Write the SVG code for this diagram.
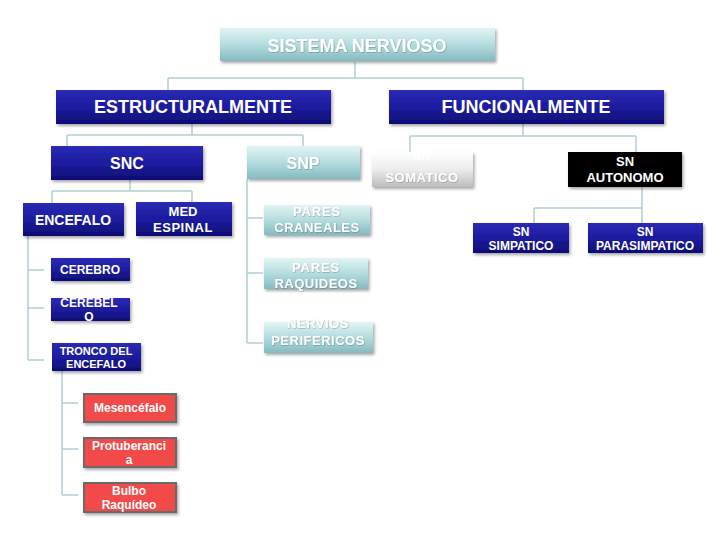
<svg xmlns="http://www.w3.org/2000/svg" width="720" height="540" viewBox="0 0 720 540">
<defs>
<linearGradient id="gBlue" x1="0" y1="0" x2="0" y2="1"><stop offset="0" stop-color="#2a2ab4"/><stop offset="0.5" stop-color="#1c1ca0"/><stop offset="1" stop-color="#0e0e74"/></linearGradient>
<linearGradient id="gTeal" x1="0" y1="0" x2="0" y2="1"><stop offset="0" stop-color="#e2f4f4"/><stop offset="0.5" stop-color="#b4dcdf"/><stop offset="1" stop-color="#84bac0"/></linearGradient>
<linearGradient id="gGray" x1="0" y1="0" x2="0" y2="1"><stop offset="0" stop-color="#ffffff"/><stop offset="0.5" stop-color="#ececec"/><stop offset="1" stop-color="#bdbdbd"/></linearGradient>
<filter id="sh" x="-10%" y="-20%" width="125%" height="150%"><feDropShadow dx="1.5" dy="2" stdDeviation="1.5" flood-color="#000" flood-opacity="0.35"/></filter>
<filter id="ts" x="-10%" y="-20%" width="120%" height="150%"><feDropShadow dx="0.6" dy="0.6" stdDeviation="0.5" flood-color="#000" flood-opacity="0.3"/></filter>
</defs>
<style>
.blue{fill:url(#gBlue);filter:url(#sh)}
.teal{fill:url(#gTeal);filter:url(#sh)}
.gray{fill:url(#gGray);filter:url(#sh)}
.black{fill:#000;filter:url(#sh)}
.red{fill:#f24a4a;stroke:#6a6a6a;stroke-width:2;filter:url(#sh)}
text{font-family:"Liberation Sans",Arial,sans-serif;font-weight:bold;fill:#fff;text-anchor:middle}
.lt{filter:url(#ts)}
.faint{fill:#fff;opacity:0.9}
.conn{fill:none;stroke:#b0cfd2;stroke-width:1.5}
</style>
<rect width="720" height="540" fill="#fff"/>
<g id="connectors" class="conn">
<path d="M355 62V78M168 78H523M168 78V90M523 78V90"/>
<path d="M192 124V135M67 135H303M67 135V146M303 135V146"/>
<path d="M523 124V136M410 136H636M410 136V152M636 136V152"/>
<path d="M130 180V191M52 191H192M52 191V203M192 191V202"/>
<path d="M28 236V360M28 270H44M28 308H44M28 360H44"/>
<path d="M62 371V495M62 403H78M62 449H78M62 495H78"/>
<path d="M247 179V343M247 218H263M247 273H263M247 343H263"/>
<path d="M642 187V208M534 208H642M534 208V223M642 208V223"/>
</g>
<g id="n-sistema"><rect class="teal" x="220" y="28" width="275" height="33"/><text class="lt" x="357" y="52" font-size="18">SISTEMA NERVIOSO</text></g>
<g id="n-estruct"><rect class="blue" x="56" y="90" width="275" height="34"/><text x="193" y="113" font-size="18">ESTRUCTURALMENTE</text></g>
<g id="n-func"><rect class="blue" x="389" y="90" width="275" height="34"/><text x="526" y="113" font-size="18">FUNCIONALMENTE</text></g>
<g id="n-snc"><rect class="blue" x="51" y="146" width="152" height="34"/><text x="127" y="169" font-size="16">SNC</text></g>
<g id="n-snp"><rect class="teal" x="247" y="146" width="113" height="33"/><text class="lt" x="303" y="169" font-size="16">SNP</text></g>
<g id="n-somatico"><rect class="gray" x="372" y="152" width="101" height="35"/><text class="faint" x="422" y="160" font-size="13">SN</text><text class="lt" x="422" y="182" font-size="13" letter-spacing="0.5">SOMATICO</text></g>
<g id="n-autonomo"><rect class="black" x="568" y="152" width="114" height="35"/><text x="625" y="166" font-size="13">SN</text><text x="625" y="182" font-size="13">AUTONOMO</text></g>
<g id="n-encefalo"><rect class="blue" x="23" y="203" width="101" height="33"/><text x="73" y="225" font-size="14">ENCEFALO</text></g>
<g id="n-medespinal"><rect class="blue" x="136" y="202" width="96" height="34"/><text x="183" y="216" font-size="13">MED</text><text x="183" y="232" font-size="13" letter-spacing="0.5">ESPINAL</text></g>
<g id="n-cerebro"><rect class="blue" x="51" y="258" width="79" height="23"/><text x="90" y="274" font-size="12">CEREBRO</text></g>
<g id="n-cerebelo"><rect class="blue" x="51" y="298" width="79" height="23"/><text x="89" y="307" font-size="12">CEREBEL</text><text x="89" y="321" font-size="12">O</text></g>
<g id="n-tronco"><rect class="blue" x="52" y="343" width="89" height="28"/><text x="96" y="355" font-size="11">TRONCO DEL</text><text x="96" y="368" font-size="11">ENCEFALO</text></g>
<g id="n-mesencefalo"><rect class="red" x="84" y="394" width="92" height="28"/><text x="130" y="412" font-size="12">Mesencéfalo</text></g>
<g id="n-protuberancia"><rect class="red" x="84" y="438" width="92" height="29"/><text x="129" y="450" font-size="12">Protuberanci</text><text x="129" y="464" font-size="12">a</text></g>
<g id="n-bulbo"><rect class="red" x="84" y="483" width="92" height="29"/><text x="129" y="495" font-size="12">Bulbo</text><text x="129" y="509" font-size="12">Raquídeo</text></g>
<g id="n-craneales"><rect class="teal" x="264" y="205" width="106" height="30"/><text class="lt" x="317" y="216" font-size="13" letter-spacing="0.8">PARES</text><text class="lt" x="317" y="232" font-size="13" letter-spacing="0.5">CRANEALES</text></g>
<g id="n-raquideos"><rect class="teal" x="264" y="258" width="104" height="31"/><text class="lt" x="316" y="272" font-size="13" letter-spacing="0.8">PARES</text><text class="lt" x="316" y="288" font-size="13" letter-spacing="0.5">RAQUIDEOS</text></g>
<g id="n-perifericos"><rect class="teal" x="264" y="322" width="109" height="31"/><text class="lt" x="318" y="328" font-size="13" letter-spacing="0.5">NERVIOS</text><text class="lt" x="318" y="345" font-size="13" letter-spacing="0.5">PERIFERICOS</text></g>
<g id="n-simpatico"><rect class="blue" x="473" y="223" width="96" height="30"/><text x="521" y="236" font-size="12">SN</text><text x="521" y="250" font-size="12">SIMPATICO</text></g>
<g id="n-parasimpatico"><rect class="blue" x="588" y="223" width="115" height="30"/><text x="645" y="236" font-size="12">SN</text><text x="645" y="250" font-size="12">PARASIMPATICO</text></g>
</svg>
